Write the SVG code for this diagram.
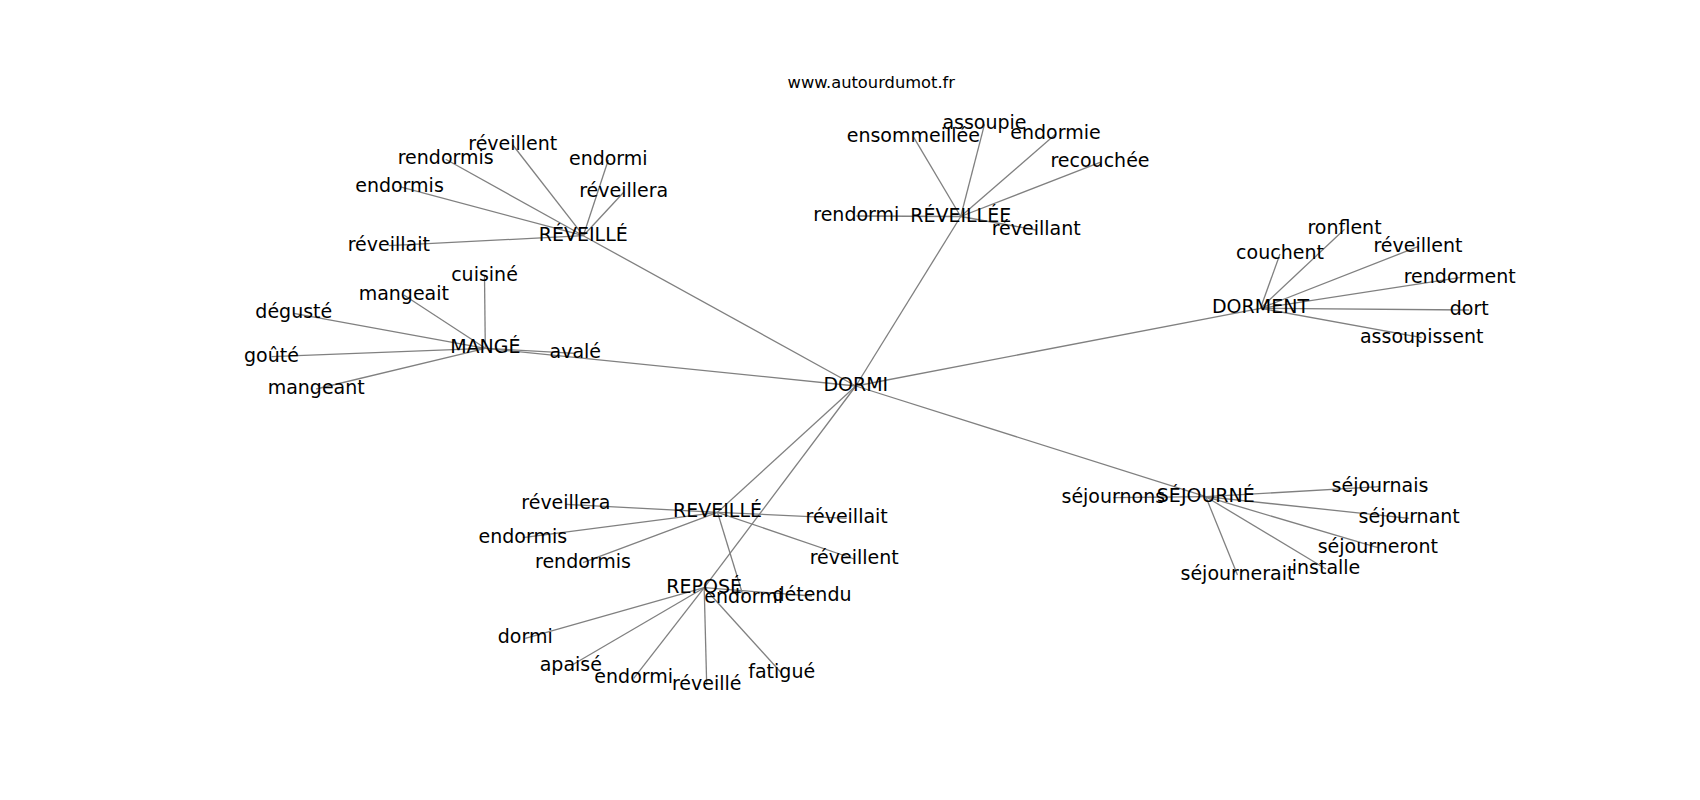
<svg xmlns="http://www.w3.org/2000/svg" width="1700" height="800" viewBox="0 0 1700 800">
<style>
.e{stroke:#808080;stroke-width:1.3;fill:none}
text{font-family:"DejaVu Sans","Liberation Sans",sans-serif;fill:#000;text-anchor:middle}
.n{font-size:19px}
.t{font-size:16.3px}
</style>
<rect width="1700" height="800" fill="#fff"/>
<text class="t" x="871.3" y="88.3">www.autourdumot.fr</text>
<g id="edges">
<!-- DORMI hub edges -->
<line class="e" x1="855.8" y1="386" x2="583.3" y2="235.7"/>
<line class="e" x1="855.8" y1="386" x2="485.3" y2="348.3"/>
<line class="e" x1="855.8" y1="386" x2="960.7" y2="216.5"/>
<line class="e" x1="855.8" y1="386" x2="1260.5" y2="308.3"/>
<line class="e" x1="855.8" y1="386" x2="1205.8" y2="496.7"/>
<line class="e" x1="855.8" y1="386" x2="717.5" y2="512.3"/>
<line class="e" x1="855.8" y1="386" x2="704.2" y2="587.7"/>
<!-- RÉVEILLÉ top -->
<line class="e" x1="583.3" y1="235.7" x2="512.8" y2="145"/>
<line class="e" x1="583.3" y1="235.7" x2="445.7" y2="159.3"/>
<line class="e" x1="583.3" y1="235.7" x2="608.3" y2="160"/>
<line class="e" x1="583.3" y1="235.7" x2="399.5" y2="186.7"/>
<line class="e" x1="583.3" y1="235.7" x2="623.7" y2="192.3"/>
<line class="e" x1="583.3" y1="235.7" x2="388.8" y2="245.7"/>
<!-- MANGÉ -->
<line class="e" x1="485.3" y1="348.3" x2="484.5" y2="275.7"/>
<line class="e" x1="485.3" y1="348.3" x2="403.8" y2="295"/>
<line class="e" x1="485.3" y1="348.3" x2="293.8" y2="313.3"/>
<line class="e" x1="485.3" y1="348.3" x2="271.5" y2="356.7"/>
<line class="e" x1="485.3" y1="348.3" x2="575.3" y2="353.3"/>
<line class="e" x1="485.3" y1="348.3" x2="316.2" y2="389"/>
<!-- RÉVEILLÉE -->
<line class="e" x1="960.7" y1="216.5" x2="984.5" y2="124.3"/>
<line class="e" x1="960.7" y1="216.5" x2="913.3" y2="136.7"/>
<line class="e" x1="960.7" y1="216.5" x2="1055.5" y2="134.3"/>
<line class="e" x1="960.7" y1="216.5" x2="1100" y2="162.3"/>
<line class="e" x1="960.7" y1="216.5" x2="856.3" y2="216"/>
<line class="e" x1="960.7" y1="216.5" x2="1036.2" y2="230"/>
<!-- DORMENT -->
<line class="e" x1="1260.5" y1="308.3" x2="1344.5" y2="229.3"/>
<line class="e" x1="1260.5" y1="308.3" x2="1280" y2="254"/>
<line class="e" x1="1260.5" y1="308.3" x2="1418" y2="246.7"/>
<line class="e" x1="1260.5" y1="308.3" x2="1459.7" y2="277.7"/>
<line class="e" x1="1260.5" y1="308.3" x2="1469.2" y2="310"/>
<line class="e" x1="1260.5" y1="308.3" x2="1421.7" y2="337.7"/>
<!-- SÉJOURNÉ -->
<line class="e" x1="1205.8" y1="496.7" x2="1113.3" y2="497.7"/>
<line class="e" x1="1205.8" y1="496.7" x2="1380" y2="486.7"/>
<line class="e" x1="1205.8" y1="496.7" x2="1409.2" y2="518.3"/>
<line class="e" x1="1205.8" y1="496.7" x2="1377.8" y2="547.7"/>
<line class="e" x1="1205.8" y1="496.7" x2="1326" y2="569"/>
<line class="e" x1="1205.8" y1="496.7" x2="1237.5" y2="575"/>
<!-- REVEILLÉ bottom -->
<line class="e" x1="717.5" y1="512.3" x2="565.8" y2="504.3"/>
<line class="e" x1="717.5" y1="512.3" x2="522.8" y2="537.7"/>
<line class="e" x1="717.5" y1="512.3" x2="583" y2="562.7"/>
<line class="e" x1="717.5" y1="512.3" x2="846.7" y2="518.3"/>
<line class="e" x1="717.5" y1="512.3" x2="854.2" y2="559"/>
<line class="e" x1="717.5" y1="512.3" x2="743.7" y2="597.7"/>
<!-- REPOSÉ -->
<line class="e" x1="704.2" y1="587.7" x2="812" y2="596"/>
<line class="e" x1="704.2" y1="587.7" x2="525.3" y2="638.3"/>
<line class="e" x1="704.2" y1="587.7" x2="570.8" y2="665.7"/>
<line class="e" x1="704.2" y1="587.7" x2="633.7" y2="678.3"/>
<line class="e" x1="704.2" y1="587.7" x2="706.7" y2="685"/>
<line class="e" x1="704.2" y1="587.7" x2="781.7" y2="673.3"/>
</g>
<g id="n-dormi"><text class="n" x="855.8" y="391">DORMI</text></g>
<g id="n-reveille-top"><text class="n" x="583.3" y="240.7">RÉVEILLÉ</text></g>
<g id="n-t-reveillent"><text class="n" x="512.8" y="150">réveillent</text></g>
<g id="n-t-rendormis"><text class="n" x="445.7" y="164.3">rendormis</text></g>
<g id="n-t-endormi"><text class="n" x="608.3" y="165">endormi</text></g>
<g id="n-t-endormis"><text class="n" x="399.5" y="191.7">endormis</text></g>
<g id="n-t-reveillera"><text class="n" x="623.7" y="197.3">réveillera</text></g>
<g id="n-t-reveillait"><text class="n" x="388.8" y="250.7">réveillait</text></g>
<g id="n-mange"><text class="n" x="485.3" y="353.3">MANGÉ</text></g>
<g id="n-cuisine"><text class="n" x="484.5" y="280.7">cuisiné</text></g>
<g id="n-mangeait"><text class="n" x="403.8" y="300">mangeait</text></g>
<g id="n-deguste"><text class="n" x="293.8" y="318.3">dégusté</text></g>
<g id="n-goute"><text class="n" x="271.5" y="361.7">goûté</text></g>
<g id="n-avale"><text class="n" x="575.3" y="358.3">avalé</text></g>
<g id="n-mangeant"><text class="n" x="316.2" y="394">mangeant</text></g>
<g id="n-reveillee"><text class="n" x="960.7" y="221.5">RÉVEILLÉE</text></g>
<g id="n-assoupie"><text class="n" x="984.5" y="129.3">assoupie</text></g>
<g id="n-ensommeillee"><text class="n" x="913.3" y="141.7">ensommeillée</text></g>
<g id="n-endormie"><text class="n" x="1055.5" y="139.3">endormie</text></g>
<g id="n-recouchee"><text class="n" x="1100" y="167.3">recouchée</text></g>
<g id="n-rendormi"><text class="n" x="856.3" y="221">rendormi</text></g>
<g id="n-reveillant"><text class="n" x="1036.2" y="235">réveillant</text></g>
<g id="n-dorment"><text class="n" x="1260.5" y="313.3">DORMENT</text></g>
<g id="n-ronflent"><text class="n" x="1344.5" y="234.3">ronflent</text></g>
<g id="n-couchent"><text class="n" x="1280" y="259">couchent</text></g>
<g id="n-d-reveillent"><text class="n" x="1418" y="251.7">réveillent</text></g>
<g id="n-rendorment"><text class="n" x="1459.7" y="282.7">rendorment</text></g>
<g id="n-dort"><text class="n" x="1469.2" y="315">dort</text></g>
<g id="n-assoupissent"><text class="n" x="1421.7" y="342.7">assoupissent</text></g>
<g id="n-sejourne"><text class="n" x="1205.8" y="501.7">SÉJOURNÉ</text></g>
<g id="n-sejournons"><text class="n" x="1113.3" y="502.7">séjournons</text></g>
<g id="n-sejournais"><text class="n" x="1380" y="491.7">séjournais</text></g>
<g id="n-sejournant"><text class="n" x="1409.2" y="523.3">séjournant</text></g>
<g id="n-sejourneront"><text class="n" x="1377.8" y="552.7">séjourneront</text></g>
<g id="n-installe"><text class="n" x="1326" y="574">installe</text></g>
<g id="n-sejournerait"><text class="n" x="1237.5" y="580">séjournerait</text></g>
<g id="n-reveille-bot"><text class="n" x="717.5" y="517.3">REVEILLÉ</text></g>
<g id="n-b-reveillera"><text class="n" x="565.8" y="509.3">réveillera</text></g>
<g id="n-b-endormis"><text class="n" x="522.8" y="542.7">endormis</text></g>
<g id="n-b-rendormis"><text class="n" x="583" y="567.7">rendormis</text></g>
<g id="n-b-reveillait"><text class="n" x="846.7" y="523.3">réveillait</text></g>
<g id="n-b-reveillent"><text class="n" x="854.2" y="564">réveillent</text></g>
<g id="n-b-endormi"><text class="n" x="743.7" y="602.7">endormi</text></g>
<g id="n-repose"><text class="n" x="704.2" y="592.7">REPOSÉ</text></g>
<g id="n-detendu"><text class="n" x="812" y="601">détendu</text></g>
<g id="n-r-dormi"><text class="n" x="525.3" y="643.3">dormi</text></g>
<g id="n-apaise"><text class="n" x="570.8" y="670.7">apaisé</text></g>
<g id="n-r-endormi"><text class="n" x="633.7" y="683.3">endormi</text></g>
<g id="n-r-reveille"><text class="n" x="706.7" y="690">réveillé</text></g>
<g id="n-fatigue"><text class="n" x="781.7" y="678.3">fatigué</text></g>
</svg>
